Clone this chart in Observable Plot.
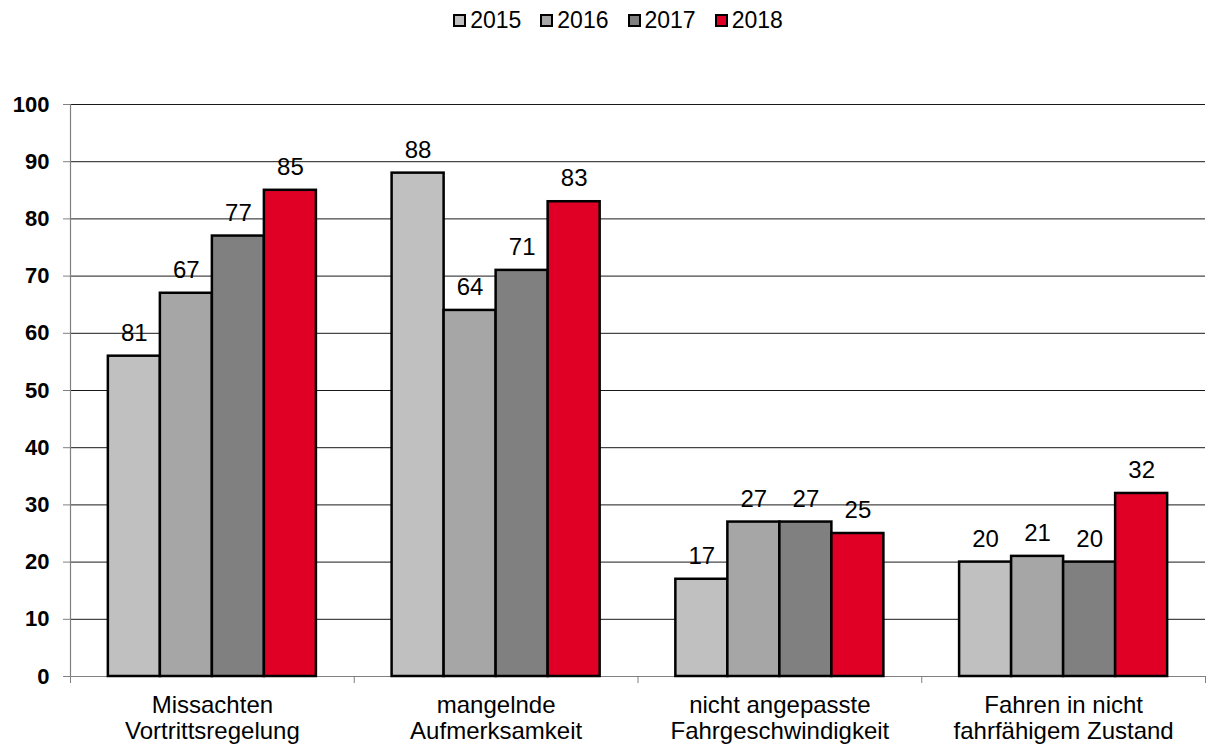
<!DOCTYPE html>
<html><head><meta charset="utf-8">
<script src="https://cdn.jsdelivr.net/npm/d3@7"></script>
<script src="https://cdn.jsdelivr.net/npm/@observablehq/plot@0.6"></script>
<style>
body{margin:0;background:#fff;font-family:"Liberation Sans",Arial,sans-serif;}
#legend{height:40px;display:flex;justify-content:center;align-items:center;font-size:23px;color:#000;padding-left:30px;}
.item{display:flex;align-items:center;margin-right:19px;}
.item:last-child{margin-right:0;}
.sw{width:9px;height:9px;border:2px solid #000;margin-right:4px;}
#chart svg{display:block;}
</style></head><body>
<div id="legend"></div>
<div id="chart"></div>
<script>
// ---- data ----
const categories = ["Missachten\nVortrittsregelung", "mangelnde\nAufmerksamkeit", "nicht angepasste\nFahrgeschwindigkeit", "Fahren in nicht\nfahrfähigem Zustand"];
const years = ["2015", "2016", "2017", "2018"];
const values2015 = [56, 88, 17, 20];
const values2016 = [67, 64, 27, 21];
const values2017 = [77, 71, 27, 20];
const values2018 = [85, 83, 25, 32];
const labels2015 = [81, 88, 17, 20];
const labels2016 = [67, 64, 27, 21];
const labels2017 = [77, 71, 27, 20];
const labels2018 = [85, 83, 25, 32];
const colors = ["#C0C0C0", "#A6A6A6", "#808080", "#E00025"];
const yTicks = [0, 10, 20, 30, 40, 50, 60, 70, 80, 90, 100];

// ---- build table ----
const seriesValues = [values2015, values2016, values2017, values2018];
const seriesLabels = [labels2015, labels2016, labels2017, labels2018];
const barFrac = 0.1833;                 // bar width as a fraction of a category slot
const groupOffset = (1 - years.length * barFrac) / 2;
const rows = [];
categories.forEach((c, ci) => {
  years.forEach((y, yi) => {
    const x1 = ci + groupOffset + yi * barFrac;
    rows.push({cat: c, year: y, value: seriesValues[yi][ci], label: seriesLabels[yi][ci], x1, x2: x1 + barFrac});
  });
});

// ---- legend ----
const legend = document.getElementById("legend");
years.forEach((y, i) => {
  const it = document.createElement("div");
  it.className = "item";
  const sw = document.createElement("div");
  sw.className = "sw";
  sw.style.background = colors[i];
  const t = document.createElement("span");
  t.textContent = y;
  it.appendChild(sw); it.appendChild(t);
  legend.appendChild(it);
});

// ---- chart ----
const chart = Plot.plot({
  width: 1206,
  height: 704,
  marginLeft: 70,
  marginRight: 1,
  marginTop: 64,
  marginBottom: 68,
  style: {fontFamily: '"Liberation Sans", Arial, sans-serif', color: "#000", background: "#fff"},
  x: {domain: [0, categories.length]},
  y: {domain: [0, 100]},
  color: {domain: years, range: colors},
  marks: [
    Plot.gridY(yTicks.filter(d => d > 0), {stroke: "#000", strokeOpacity: 0.9, strokeWidth: 1}),
    Plot.ruleY([0], {stroke: "#808080", strokeWidth: 1.2}),
    Plot.ruleX([0], {y1: 0, y2: 100, stroke: "#808080", strokeWidth: 1.2}),
    Plot.axisY({ticks: yTicks, tickSize: 7, tickPadding: 14, fontSize: 22, fontWeight: "bold", stroke: "#808080", label: null, tickFormat: d => String(d)}),
    Plot.axisX({ticks: d3.range(categories.length + 1), tickSize: 7, tickFormat: () => "", stroke: "#808080", label: null}),
    Plot.axisX({ticks: categories.map((c, i) => i + 0.5), tickSize: 0, tickPadding: 19, fontSize: 24, lineHeight: 1.05, tickFormat: v => categories[Math.floor(v)], label: null}),
    Plot.rectY(rows, {x1: "x1", x2: "x2", y: "value", fill: "year", stroke: "#000", strokeWidth: 2.5}),
    Plot.text(rows, {x: d => (d.x1 + d.x2) / 2, y: "value", text: d => String(d.label), dy: -23, fontSize: 24, fill: "#000"})
  ]
});
document.getElementById("chart").appendChild(chart);
</script>
</body></html>
